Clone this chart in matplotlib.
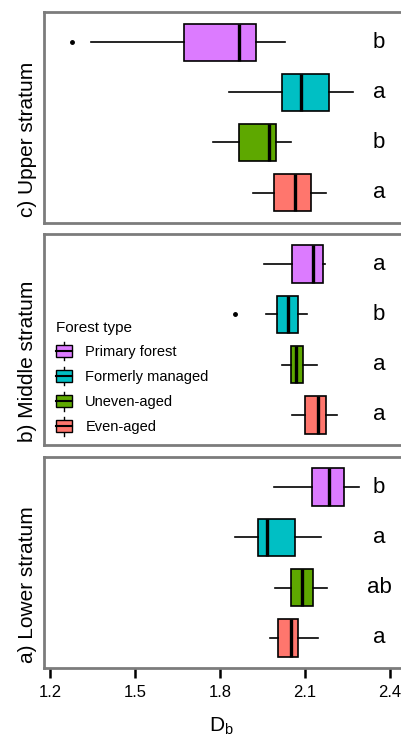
import matplotlib
matplotlib.use('Agg')
from matplotlib import pyplot as plt
from matplotlib.legend_handler import HandlerBase
from matplotlib.lines import Line2D
from matplotlib.patches import Rectangle

plt.rcParams['font.family'] = ['Liberation Sans', 'DejaVu Sans']
plt.rcParams['mathtext.default'] = 'regular'

# order is bottom -> top inside each panel
FOREST_TYPES = ['Even-aged', 'Uneven-aged', 'Formerly managed', 'Primary forest']
COLOURS = ['#FF766D', '#5EA800', '#00BFC4', '#DC7BFF']

# whisker low, q1, median, q3, whisker high
UPPER_STATS = [[1.918, 1.992, 2.066, 2.123, 2.175],
               [1.777, 1.869, 1.975, 1.999, 2.052],
               [1.833, 2.019, 2.086, 2.186, 2.272],
               [1.345, 1.675, 1.869, 1.927, 2.030]]
UPPER_FLIERS = [[], [], [], [1.277]]
UPPER_LETTERS = ['a', 'b', 'a', 'b']

MIDDLE_STATS = [[2.056, 2.101, 2.148, 2.174, 2.213],
                [2.019, 2.052, 2.069, 2.095, 2.145],
                [1.962, 2.003, 2.041, 2.075, 2.107],
                [1.957, 2.056, 2.130, 2.166, 2.172]]
MIDDLE_FLIERS = [[], [], [1.854], []]
MIDDLE_LETTERS = ['a', 'a', 'b', 'a']

LOWER_STATS = [[1.977, 2.006, 2.051, 2.077, 2.148],
               [1.996, 2.051, 2.090, 2.130, 2.180],
               [1.854, 1.934, 1.966, 2.066, 2.157],
               [1.992, 2.127, 2.185, 2.239, 2.293]]
LOWER_FLIERS = [[], [], [], []]
LOWER_LETTERS = ['a', 'ab', 'a', 'b']

X_TICKS = [1.2, 1.5, 1.8, 2.1, 2.4]
LETTER_X = 2.363

BORDER = '#7c7c7c'


class BoxKeyHandler(HandlerBase):
    # small boxplot glyph like the ggplot legend key
    def create_artists(self, legend, orig_handle, xdescent, ydescent, width, height, fontsize, trans):
        box_h = height * 0.62
        y0 = -ydescent + (height - box_h) / 2
        x0 = -xdescent
        whisk = Line2D([x0 + width / 2] * 2, [-ydescent, -ydescent + height], color='black', lw=1, transform=trans)
        box = Rectangle((x0, y0), width, box_h, facecolor=orig_handle.get_facecolor(),
                        edgecolor='black', lw=1, transform=trans)
        mid = Line2D([x0, x0 + width], [y0 + box_h / 2] * 2, color='black', lw=1.5, transform=trans)
        return [whisk, box, mid]


def draw_panel(ax, stats, fliers, letters, label):
    boxes = []
    for s, f in zip(stats, fliers):
        boxes.append({'whislo': s[0], 'q1': s[1], 'med': s[2], 'q3': s[3], 'whishi': s[4], 'fliers': f})
    art = ax.bxp(boxes, positions=range(1, len(boxes) + 1), widths=0.75, orientation='horizontal',
                 patch_artist=True, showcaps=False,
                 boxprops=dict(edgecolor='black', linewidth=1.2),
                 medianprops=dict(color='black', linewidth=2.4),
                 whiskerprops=dict(color='black', linewidth=1.2),
                 flierprops=dict(marker='o', markersize=2.5, markerfacecolor='black', markeredgecolor='black'))
    for patch, col in zip(art['boxes'], COLOURS):
        patch.set_facecolor(col)

    for i, letter in enumerate(letters):
        ax.text(LETTER_X, i + 1, letter, ha='center', va='center', fontsize=16)

    ax.set_xlim(1.179, 2.482)
    ax.set_ylim(0.4, 4.6)
    ax.set_yticks([])
    ax.set_xticks(X_TICKS)
    for sp in ax.spines.values():
        sp.set_color(BORDER)
        sp.set_linewidth(2)
    ax.set_ylabel(label, fontsize=15)
    ax.yaxis.set_label_coords(-0.02, 0.396)


fig = plt.figure(figsize=(4.01, 7.38), dpi=100)
ax_up = fig.add_axes([0.1097, 0.6985, 0.92, 0.2846])
ax_mid = fig.add_axes([0.1097, 0.3970, 0.92, 0.2859])
ax_low = fig.add_axes([0.1097, 0.0949, 0.92, 0.2859])

draw_panel(ax_up, UPPER_STATS, UPPER_FLIERS, UPPER_LETTERS, 'c) Upper stratum')
draw_panel(ax_mid, MIDDLE_STATS, MIDDLE_FLIERS, MIDDLE_LETTERS, 'b) Middle stratum')
draw_panel(ax_low, LOWER_STATS, LOWER_FLIERS, LOWER_LETTERS, 'a) Lower stratum')

for ax in (ax_up, ax_mid):
    ax.tick_params(axis='x', length=0, labelbottom=False)
ax_low.tick_params(axis='x', length=7, width=1.8, color='black', pad=5, labelsize=12)
ax_low.set_xlabel(r'D$_b$', fontsize=15)
ax_low.xaxis.set_label_coords(0.482, -0.225)

handles = [Rectangle((0, 0), 1, 1, facecolor=c) for c in COLOURS][::-1]
leg = ax_mid.legend(handles, FOREST_TYPES[::-1], handler_map={Rectangle: BoxKeyHandler()},
                    loc='lower left', bbox_to_anchor=(0.033, 0.045), borderaxespad=0, borderpad=0,
                    handlelength=1.1, handleheight=1.6, handletextpad=0.9, labelspacing=0.43,
                    fontsize=10.5, title='Forest type', title_fontsize=11, alignment='left', frameon=False)

fig.savefig('out.png', dpi=100)
